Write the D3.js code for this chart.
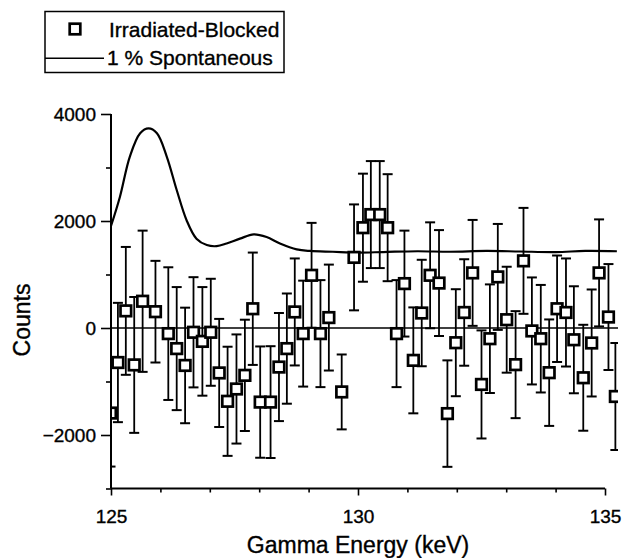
<!DOCTYPE html>
<html>
<head>
<meta charset="utf-8">
<script src="https://cdn.jsdelivr.net/npm/d3@7"></script>
<style>
  html, body { margin: 0; padding: 0; background: #fff; }
  svg { display: block; }
  text { font-family: "Liberation Sans", Arial, Helvetica, sans-serif; fill: #000; stroke: #000; stroke-width: 0.35px; }
</style>
</head>
<body>
<svg id="chart" width="636" height="558"></svg>
<script>
// ---- data ----
const energy = [124.99,125.14,125.30,125.47,125.64,125.90,126.16,126.33,126.50,126.67,
  126.85,127.02,127.19,127.36,127.54,127.71,127.87,128.02,128.23,128.40,
  128.56,128.72,128.89,129.06,129.24,129.41,129.67,129.92,130.10,130.26,
  130.44,130.60,130.78,130.94,131.12,131.29,131.46,131.64,131.81,131.98,
  132.15,132.32,132.50,132.67,132.83,133.01,133.19,133.35,133.52,133.70,
  133.87,134.03,134.21,134.37,134.56,134.73,134.88,135.07,135.21];
const counts = [-1590,-645,320,-690,500,305,-105,-385,-700,-80,
  -250,-80,-840,-1370,-1140,-885,360,-1385,-1385,-730,
  -385,300,-105,985,-105,195,-1195,1320,1875,2120,
  2120,1875,-105,830,-605,280,985,840,-1600,-275,
  290,1030,-1055,-200,955,155,-685,1255,-55,-200,
  -835,360,290,-220,-930,-280,1030,205,-1280];
const errors = [1000,1115,1195,1270,1320,950,1240,1150,1080,1030,
  1015,1000,1010,1020,1020,1040,1050,1040,1045,1010,
  1030,1000,990,980,1000,990,700,990,1010,1000,
  1000,1000,1000,990,990,995,990,990,995,1000,
  995,990,1010,1015,990,990,1000,990,1000,1005,
  995,995,1010,1000,990,1000,1000,990,1000];

const spontEnergy = [124.98,125.18,125.38,125.59,125.76,125.93,126.13,126.33,126.53,126.73,
  126.94,127.14,127.34,127.61,127.89,128.15,128.42,128.76,129.03,129.49,
  130.0,130.51,131.2,131.86,132.6,133.28,134.0,134.6,135.24];
const spontCounts = [1850,2450,3200,3640,3730,3640,3200,2580,2015,1670,
  1550,1530,1580,1670,1750,1700,1580,1470,1440,1425,
  1410,1420,1435,1425,1440,1430,1420,1440,1435];

const xTicksMajor = [125, 130, 135];
const xTicksMinor = [126,127,128,129,131,132,133,134];
const yTicksMajor = [-2000, 0, 2000, 4000];
const yTicksMinor = [-3000, -1000, 1000, 3000];

const legendLabels = ["Irradiated-Blocked", "1 % Spontaneous"];
const xTitle = "Gamma Energy (keV)";
const yTitle = "Counts";

// ---- layout ----
const svg = d3.select("#chart");
const x = d3.scaleLinear().domain([125, 135]).range([111, 605]);
const y = d3.scaleLinear().domain([-3000, 4000]).range([488.5, 114]);

svg.append("defs").append("clipPath").attr("id", "plotclip")
  .append("rect").attr("x", 111).attr("y", 0).attr("width", 507).attr("height", 489);

const plot = svg.append("g").attr("clip-path", "url(#plotclip)");

// zero line
plot.append("line")
  .attr("x1", x(125)).attr("x2", x(135.3))
  .attr("y1", y(0)).attr("y2", y(0))
  .attr("stroke", "#000").attr("stroke-width", 1.3);

// spontaneous curve
const line = d3.line().x((d, i) => x(spontEnergy[i])).y(d => y(d)).curve(d3.curveCatmullRom.alpha(0.5));
plot.append("path").datum(spontCounts)
  .attr("d", line).attr("fill", "none").attr("stroke", "#000").attr("stroke-width", 2.2);

// error bars
const pts = energy.map((e, i) => ({e, c: counts[i], s: errors[i]}));
const eb = plot.append("g").attr("stroke", "#000");
eb.selectAll("line.v").data(pts).join("line").attr("class", "v")
  .attr("x1", d => x(d.e)).attr("x2", d => x(d.e))
  .attr("y1", d => y(d.c + d.s)).attr("y2", d => y(d.c - d.s))
  .attr("stroke-width", 1.8);
eb.selectAll("line.t").data(pts).join("line").attr("class", "t")
  .attr("x1", d => x(d.e) - 5).attr("x2", d => x(d.e) + 5)
  .attr("y1", d => y(d.c + d.s)).attr("y2", d => y(d.c + d.s))
  .attr("stroke-width", 2);
eb.selectAll("line.b").data(pts).join("line").attr("class", "b")
  .attr("x1", d => x(d.e) - 5).attr("x2", d => x(d.e) + 5)
  .attr("y1", d => y(d.c - d.s)).attr("y2", d => y(d.c - d.s))
  .attr("stroke-width", 2);

// squares
const sq = 10.6;
plot.append("g").selectAll("rect").data(pts).join("rect")
  .attr("x", d => x(d.e) - sq / 2).attr("y", d => y(d.c) - sq / 2)
  .attr("width", sq).attr("height", sq)
  .attr("fill", "#fff").attr("stroke", "#000").attr("stroke-width", 2.7);

// ---- axes ----
const ax = svg.append("g");
ax.append("line").attr("x1", x(125)).attr("x2", x(135)).attr("y1", y(-3000)).attr("y2", y(-3000))
  .attr("stroke", "#000").attr("stroke-width", 2);
ax.append("line").attr("x1", x(125)).attr("x2", x(125)).attr("y1", y(-3000)).attr("y2", y(4000))
  .attr("stroke", "#000").attr("stroke-width", 2);

const xAxisMajor = d3.axisBottom(x).tickValues(xTicksMajor).tickSize(7).tickFormat(d3.format("d"));
const xAxisMinor = d3.axisBottom(x).tickValues(xTicksMinor).tickSize(4).tickFormat("");
const yAxisMajor = d3.axisLeft(y).tickValues(yTicksMajor).tickSize(10).tickFormat(d3.format("d"));
const yAxisMinor = d3.axisLeft(y).tickValues(yTicksMinor).tickSize(5).tickFormat("");

function styleAxis(g) {
  g.select(".domain").remove();
  g.selectAll(".tick line").attr("stroke", "#000").attr("stroke-width", 1.6);
  g.selectAll(".tick text").attr("font-size", 19).attr("fill", "#000")
    .attr("font-family", "Liberation Sans, Arial, sans-serif");
}
svg.append("g").attr("transform", `translate(0,${y(-3000)})`).call(xAxisMajor).call(styleAxis)
  .selectAll(".tick text").attr("dy", "1.3em");
svg.append("g").attr("transform", `translate(0,${y(-3000)})`).call(xAxisMinor).call(styleAxis);
svg.append("g").attr("transform", `translate(${x(125)},0)`).call(yAxisMajor).call(styleAxis)
  .selectAll(".tick text").attr("x", -15);
svg.append("g").attr("transform", `translate(${x(125)},0)`).call(yAxisMinor).call(styleAxis);

// titles
svg.append("text").attr("x", x(130)).attr("y", 553).attr("text-anchor", "middle")
  .attr("font-size", 23).text(xTitle);
svg.append("text").attr("transform", "translate(30,320) rotate(-90)").attr("text-anchor", "middle")
  .attr("font-size", 23).text(yTitle);

// ---- legend ----
const lg = svg.append("g");
lg.append("rect").attr("x", 45).attr("y", 11.5).attr("width", 239).attr("height", 61)
  .attr("fill", "#fff").attr("stroke", "#000").attr("stroke-width", 1.5);
lg.append("rect").attr("x", 75 - sq / 2).attr("y", 29 - sq / 2).attr("width", sq).attr("height", sq)
  .attr("fill", "#fff").attr("stroke", "#000").attr("stroke-width", 2.7);
lg.append("text").attr("x", 109).attr("y", 37).attr("font-size", 21).text(legendLabels[0]);
lg.append("line").attr("x1", 45).attr("x2", 104).attr("y1", 58.3).attr("y2", 58.3)
  .attr("stroke", "#000").attr("stroke-width", 1.6);
lg.append("text").attr("x", 107).attr("y", 65).attr("font-size", 21).text(legendLabels[1]);
</script>
</body>
</html>
